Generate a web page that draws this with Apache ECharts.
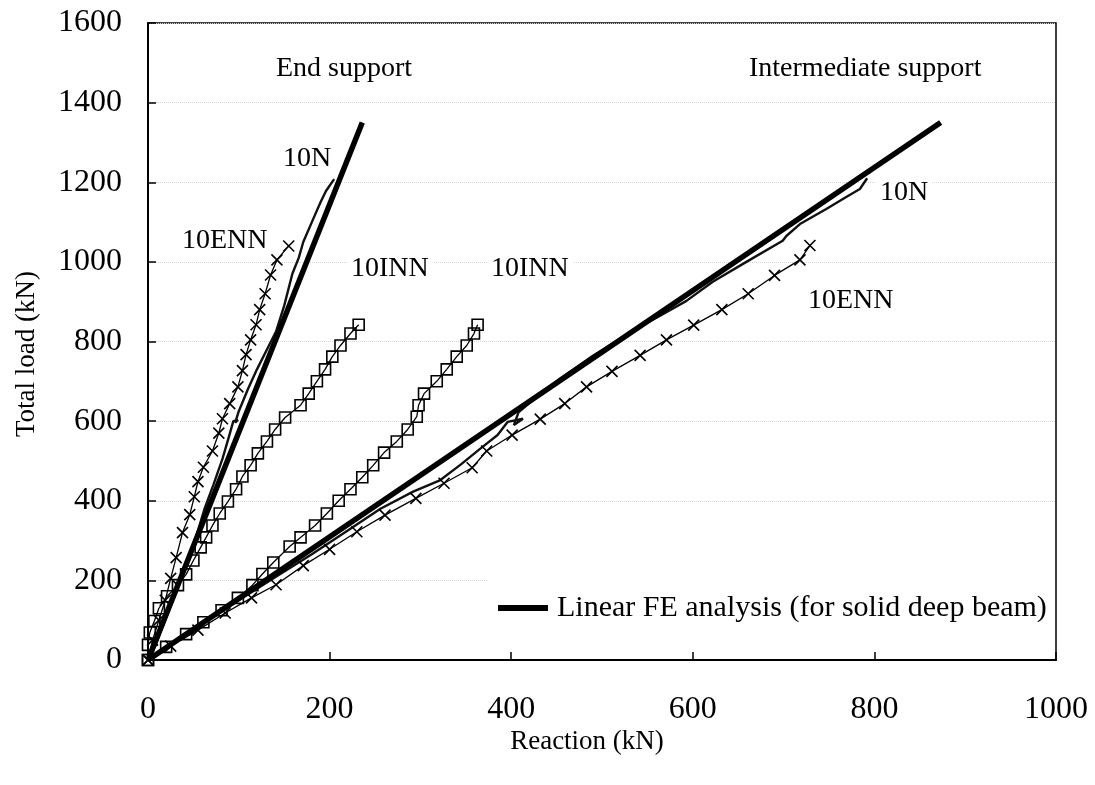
<!DOCTYPE html>
<html>
<head>
<meta charset="utf-8">
<script src="https://cdn.jsdelivr.net/npm/echarts@6/dist/echarts.min.js"></script>
<style>
  html, body { margin: 0; padding: 0; background: #fff; }
  #chart { width: 1095px; height: 785px; }
</style>
</head>
<body>
<div id="chart"></div>
<script>
// ---- Data (Reaction kN, Total load kN) ----
const xTicks = [0, 200, 400, 600, 800, 1000];
const yTicks = [0, 200, 400, 600, 800, 1000, 1200, 1400, 1600];

const feEnd = [[0, 0], [236, 1350]];
const feInt = [[0, 0], [873, 1350]];

const n10End = [[0,0],[8,35],[18,95],[30,165],[42,240],[53,310],[62,378],[72,440],[82,505],[89,560],[94,600],[99,603],[96,596],[100,625],[110,680],[120,730],[131,780],[141,825],[150,890],[159,970],[166,1010],[171,1050],[182,1108],[190,1150],[196,1178],[205,1208]];

const enn10End = [[0,0],[5,50],[12,100],[19,150],[25,205],[31,257],[38,320],[46,365],[51,410],[55,448],[61,484],[71,525],[78,570],[82,606],[90,644],[99,686],[104,727],[108,767],[113,804],[119,842],[123,880],[129,920],[135,967],[142,1005],[155,1040]];

const inn10End = [[0,0],[0,38],[2,69],[7,98],[12,130],[21,160],[33,188],[42,215],[50,250],[58,283],[64,308],[71,338],[79,368],[88,398],[97,429],[104,461],[113,489],[121,519],[131,549],[140,579],[151,609],[168,640],[177,669],[186,700],[195,730],[203,762],[212,790],[223,820],[232,842]];

const inn10Int = [[0,0],[20,33],[42,65],[61,95],[81,125],[99,156],[115,188],[126,216],[138,245],[156,285],[168,308],[184,338],[197,368],[210,400],[223,429],[236,459],[248,489],[260,521],[274,549],[286,579],[296,611],[298,640],[304,669],[318,700],[329,730],[340,762],[351,790],[359,820],[363,842]];

const n10Int = [[0,0],[30,45],[60,92],[100,150],[140,208],[180,265],[220,325],[256,380],[292,423],[322,452],[345,492],[366,531],[385,565],[396,598],[413,606],[403,590],[408,622],[430,665],[454,707],[490,764],[538,832],[562,862],[593,902],[622,950],[659,1000],[699,1053],[703,1065],[718,1095],[747,1133],[769,1163],[784,1183],[792,1210]];

const enn10Int = [[0,0],[25,35],[55,75],[85,118],[114,156],[141,189],[171,237],[200,278],[230,322],[261,364],[295,406],[326,444],[357,483],[373,525],[401,565],[432,605],[459,644],[483,686],[511,725],[542,765],[571,804],[601,841],[632,880],[661,920],[690,966],[718,1005],[729,1041]];

const legendName = 'Linear FE analysis (for solid deep beam)';
const xTitle = 'Reaction (kN)';
const yTitle = 'Total load (kN)';
const annotations = [
  { text: 'End support', x: 276, y: 68 },
  { text: 'Intermediate support', x: 749, y: 68 },
  { text: '10N', x: 283, y: 158 },
  { text: '10ENN', x: 182, y: 240 },
  { text: '10INN', x: 351, y: 268 },
  { text: '10INN', x: 491, y: 268 },
  { text: '10N', x: 880, y: 192 },
  { text: '10ENN', x: 808, y: 300 }
];

const FONT = '"Liberation Serif", "Times New Roman", serif';
const crossPath = 'path://M0,0L10,10M10,0L0,10';

function thin(name, data, kind) {
  const s = {
    name: name, type: 'line', data: data, z: 3,
    lineStyle: { color: '#000', width: 1.3 },
    silent: true
  };
  if (kind === 'square') {
    s.symbol = 'rect'; s.symbolSize = 11;
    s.itemStyle = { color: 'rgba(0,0,0,0)', borderColor: '#000', borderWidth: 1.6 };
  } else if (kind === 'cross') {
    s.symbol = crossPath; s.symbolSize = 11;
    s.itemStyle = { color: 'rgba(0,0,0,0)', borderColor: '#000', borderWidth: 1.6 };
  } else {
    s.symbol = 'none';
    s.lineStyle = { color: '#111', width: 2.4 };
  }
  return s;
}

const graphics = annotations.map(a => ({
  type: 'text', left: a.x - 4, top: a.y - 15, z: 2,
  style: { text: a.text, font: '28px ' + FONT, fill: '#000', backgroundColor: '#fff', padding: [2, 4] }
}));
// white box behind the legend (covers the grid line, as in the original)
graphics.push({ type: 'rect', shape: { x: 488, y: 577, width: 567, height: 60 }, z: 1, style: { fill: '#fff' } });
graphics.push({ type: 'text', x: 587, y: 742, z: 2,
  style: { text: xTitle, font: '27px ' + FONT, fill: '#000', align: 'center', verticalAlign: 'middle' } });
graphics.push({ type: 'text', x: 27, y: 354, rotation: Math.PI / 2, z: 2,
  style: { text: yTitle, font: '27px ' + FONT, fill: '#000', align: 'center', verticalAlign: 'middle' } });

const chart = echarts.init(document.getElementById('chart'), null, { renderer: 'canvas' });
chart.setOption({
  animation: false,
  backgroundColor: '#fff',
  grid: { left: 148, top: 23, right: 39, bottom: 125, show: true, borderColor: '#000', borderWidth: 1.5, backgroundColor: 'transparent' },
  xAxis: {
    type: 'value', min: 0, max: 1000, interval: 200,
    axisLine: { show: true, lineStyle: { color: '#000', width: 2 } },
    axisTick: { show: true, inside: true, length: 8, lineStyle: { color: '#000', width: 1.5 } },
    axisLabel: { fontFamily: FONT, fontSize: 32, color: '#000', margin: 34,
      formatter: v => xTicks.includes(v) ? String(v) : '' },
    splitLine: { show: false }
  },
  yAxis: {
    type: 'value', min: 0, max: 1600, interval: 200,
    axisLine: { show: true, lineStyle: { color: '#000', width: 2 } },
    axisTick: { show: true, inside: true, length: 8, lineStyle: { color: '#000', width: 1.5 } },
    axisLabel: { fontFamily: FONT, fontSize: 32, color: '#000', margin: 26,
      formatter: v => yTicks.includes(v) ? String(v) : '' },
    splitLine: { show: true, lineStyle: { color: '#d4d4d4', width: 1, type: 'dotted' } }
  },
  legend: {
    data: [legendName],
    left: 493, top: 590,
    orient: 'horizontal',
    icon: 'rect', itemWidth: 50, itemHeight: 6, itemGap: 8,
    padding: [0, 0, 0, 5],
    textStyle: { fontFamily: FONT, fontSize: 30, color: '#000', lineHeight: 36, padding: [0, 0, 0, 4] },
    selectedMode: false
  },
  graphic: graphics,
  series: [
    thin('10N end', n10End, 'dense'),
    thin('10ENN end', enn10End, 'cross'),
    thin('10INN end', inn10End, 'square'),
    thin('10INN int', inn10Int, 'square'),
    thin('10N int', n10Int, 'dense'),
    thin('10ENN int', enn10Int, 'cross'),
    { name: legendName, type: 'line', data: feEnd, symbol: 'none', z: 4,
      lineStyle: { color: '#000', width: 5.5 }, itemStyle: { color: '#000' } },
    { name: legendName, type: 'line', data: feInt, symbol: 'none', z: 4,
      lineStyle: { color: '#000', width: 5.5 }, itemStyle: { color: '#000' } }
  ]
});
</script>
</body>
</html>
